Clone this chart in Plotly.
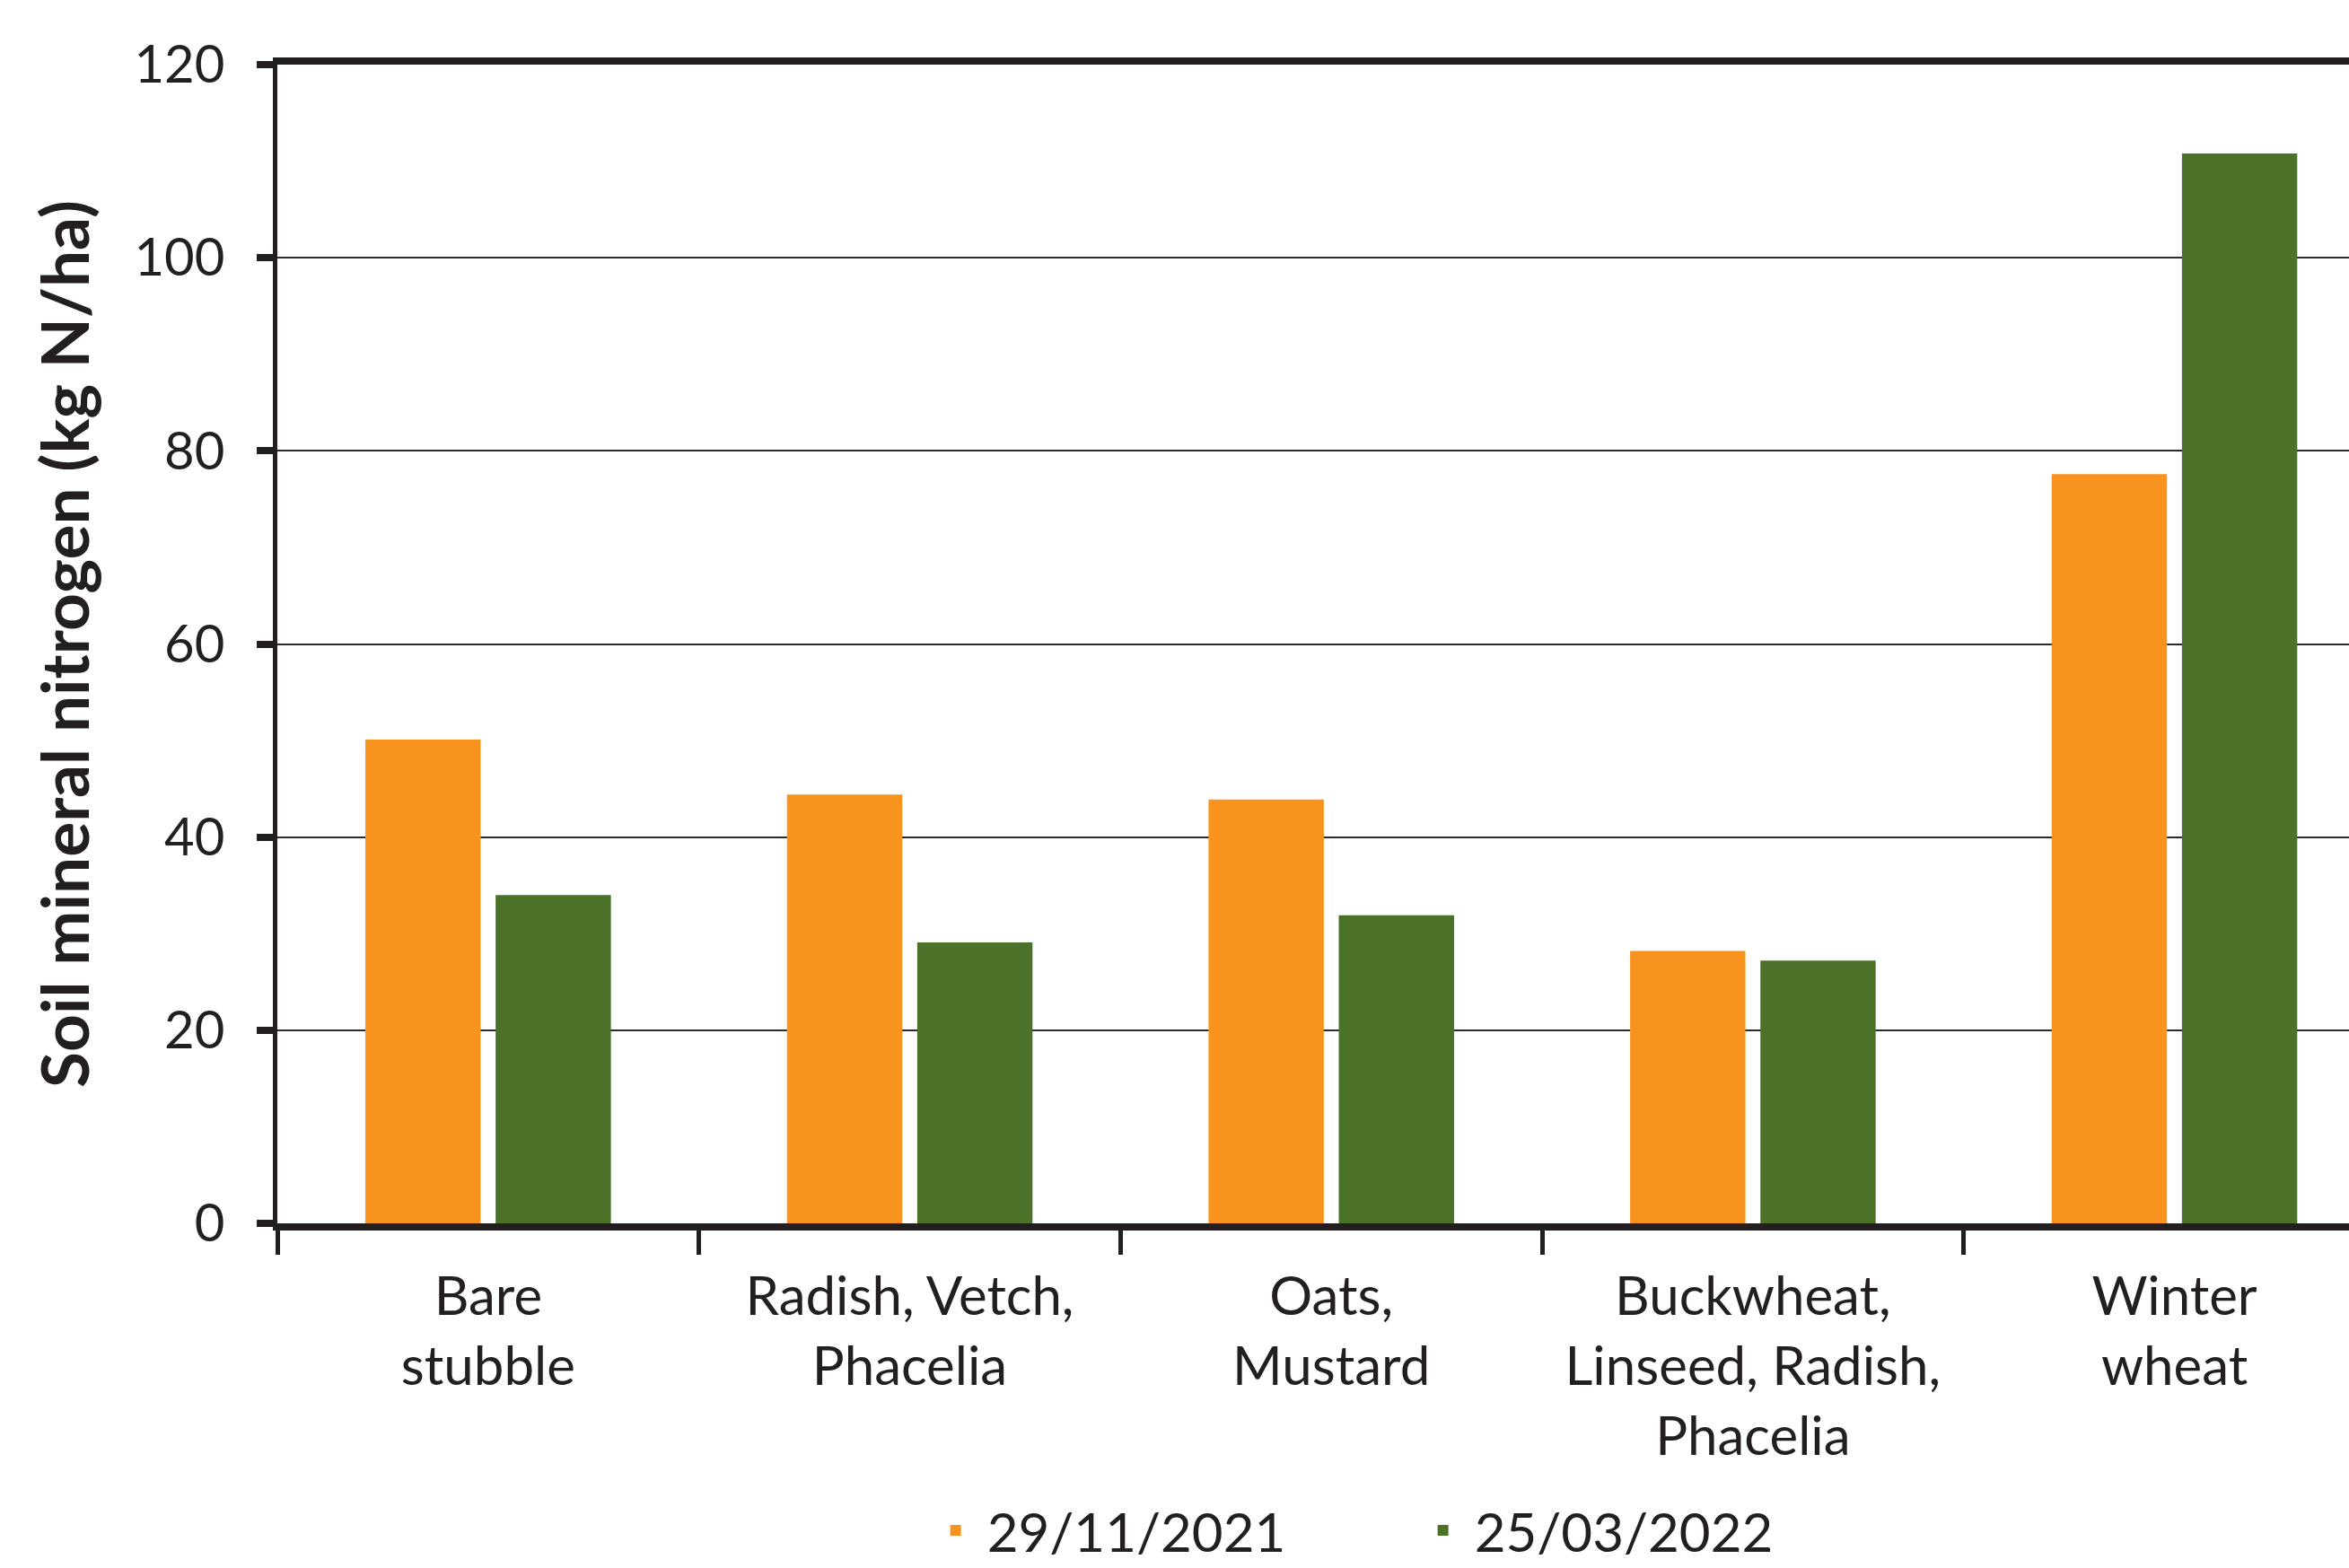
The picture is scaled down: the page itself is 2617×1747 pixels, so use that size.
import plotly.graph_objects as go

categories = ["Bare<br>stubble", "Radish, Vetch,<br>Phacelia", "Oats,<br>Mustard",
              "Buckwheat,<br>Linseed, Radish,<br>Phacelia", "Winter<br>wheat"]
series_names = ["29/11/2021", "25/03/2022"]
values_nov2021 = [50.1, 44.4, 43.9, 28.2, 77.6]
values_mar2022 = [34.0, 29.1, 31.9, 27.2, 110.8]
y_ticks = [0, 20, 40, 60, 80, 100, 120]

ORANGE = "#F7931E"
GREEN = "#4C7129"
INK = "#231F20"
FONT = "Lato, 'Noto Sans', sans-serif"

fig = go.Figure()
fig.add_trace(go.Bar(x=categories, y=values_nov2021, name=series_names[0],
                     marker=dict(color=ORANGE, line=dict(width=0))))
fig.add_trace(go.Bar(x=categories, y=values_mar2022, name=series_names[1],
                     marker=dict(color=GREEN, line=dict(width=0))))

fig.update_layout(
    width=2617, height=1747,
    margin=dict(l=309, r=0, t=72, b=384, autoexpand=False),
    paper_bgcolor="white", plot_bgcolor="white",
    barmode="group", bargap=0.382, bargroupgap=0.115,
    font=dict(family=FONT, color=INK, size=58),
    showlegend=True,
    legend=dict(orientation="h", x=0.5475, xanchor="center", y=-0.265, yanchor="middle",
                font=dict(size=60, color=INK), itemwidth=60,
                entrywidth=468, entrywidthmode="pixels", traceorder="normal"),
)

fig.update_xaxes(
    type="category", range=[-0.5, 4.414],
    showline=True, linecolor=INK, linewidth=8, mirror=True,
    ticks="outside", tickson="boundaries", ticklen=27, tickwidth=5, tickcolor=INK,
    showgrid=False, zeroline=False,
    tickfont=dict(size=60, color=INK, family=FONT), ticklabelstandoff=22,
)
fig.update_yaxes(
    range=[0, 120], tickvals=y_ticks, ticktext=[str(v) for v in y_ticks],
    showline=True, linecolor=INK, linewidth=5,
    ticks="outside", ticklen=18, tickwidth=8, tickcolor=INK,
    showgrid=True, gridcolor="#2b2b2b", gridwidth=2, zeroline=False,
    tickfont=dict(size=58, color=INK, family=FONT), ticklabelstandoff=24,
    title=dict(text="Soil mineral nitrogen (kg N/ha)",
               font=dict(size=73, color=INK, family=FONT, weight="bold"),
               standoff=27),
    automargin=False,
)

fig.write_html("out.html")
